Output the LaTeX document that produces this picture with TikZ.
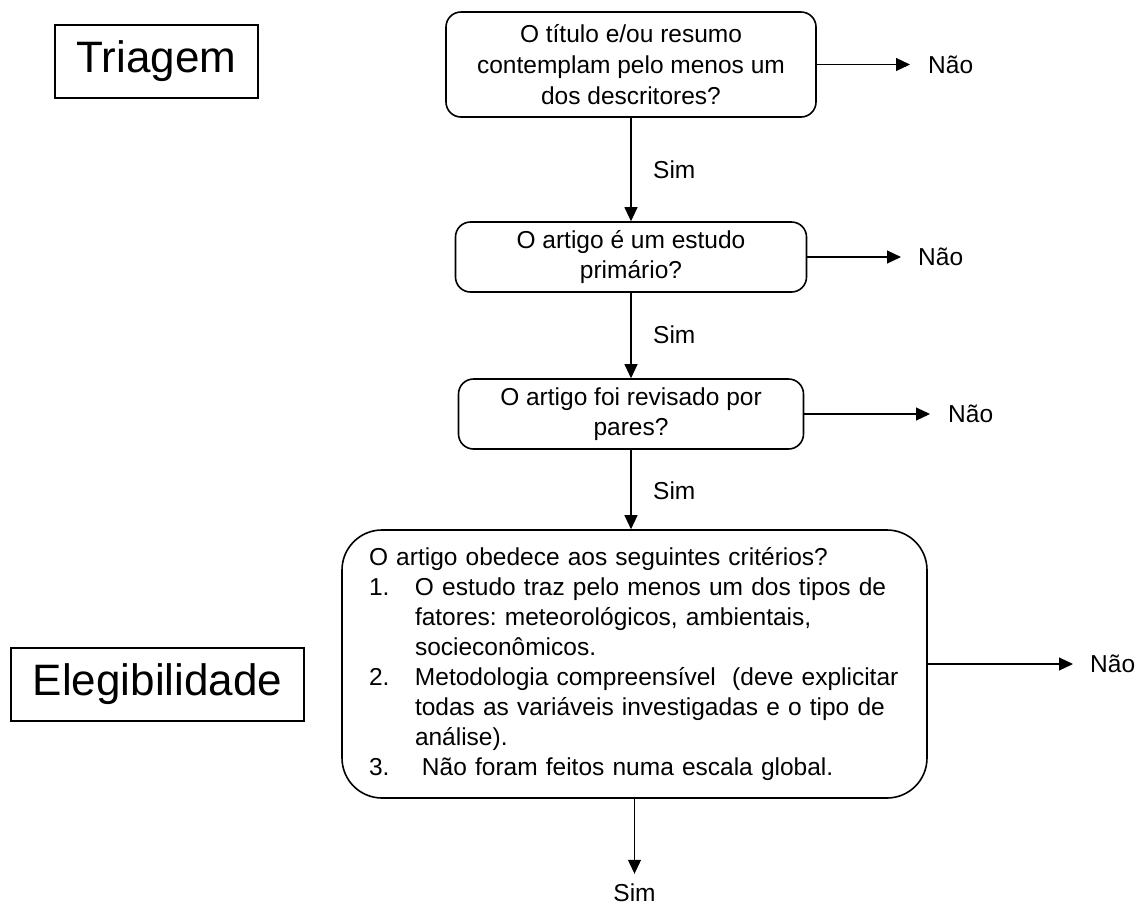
\documentclass[tikz,border=0pt]{standalone}
\usepackage{fontspec}
\setmainfont{Liberation Sans}
\usetikzlibrary{arrows.meta}
\begin{document}
\begin{tikzpicture}[x=1pt,y=-1pt,
  q/.style={draw, line width=1.6pt, rounded corners=15pt, align=center, inner sep=0pt, font=\fontsize{24.5}{30}\selectfont\frenchspacing},
  lab/.style={draw, line width=1.6pt, inner sep=0pt, font=\fontsize{44}{50}\selectfont},
  arr/.style={line width=1.1pt, -{Triangle[length=14pt,width=13pt]}},
  txt/.style={inner sep=0pt, font=\fontsize{24.5}{30}\selectfont}]
\useasboundingbox (0,0) rectangle (1136,906);
\fill[white] (0,0) rectangle (1136,906);
% stage labels
\node[lab, minimum width=203pt, minimum height=73pt] (tri) at (156.5,61.5) {Triagem};
\node[lab, minimum width=293pt, minimum height=73pt] (ele) at (157.5,684.5) {Elegibilidade};
% questions
\node[q, minimum width=370pt, minimum height=105pt, font=\fontsize{24.5}{31}\selectfont] (q1) at (631,64.5) {O título e/ou resumo\\contemplam pelo menos um\\dos descritores?};
\node[q, minimum width=351pt, minimum height=70pt] (q2) at (631,257) {O artigo é um estudo\\primário?};
\node[q, minimum width=345pt, minimum height=70pt] (q3) at (631,414) {O artigo foi revisado por\\pares?};
\node[q, rounded corners=40pt, minimum width=585pt, minimum height=268pt, text width=531pt, align=left, inner xsep=27pt, inner ysep=0pt] (crit) at (634.5,664) {O artigo obedece aos seguintes critérios?\\
\makebox[46pt][l]{1.}O estudo traz pelo menos um dos tipos de\\
\hspace*{46pt}fatores: meteorológicos, ambientais,\\
\hspace*{46pt}socieconômicos.\\
\makebox[46pt][l]{2.}Metodologia compreensível\ \ (deve explicitar\\
\hspace*{46pt}todas as variáveis investigadas e o tipo de\\
\hspace*{46pt}análise).\\
\makebox[53pt][l]{3.}Não foram feitos numa escala global.};
% No labels
\node[txt, anchor=west] (n1) at (928,64.5) {Não};
\node[txt, anchor=west] (n2) at (918,257) {Não};
\node[txt, anchor=west] (n3) at (948,414) {Não};
\node[txt, anchor=west] (n4) at (1090,664) {Não};
% Yes labels
\node[txt, anchor=west] (s1) at (653,170) {Sim};
\node[txt, anchor=west] (s2) at (653,335) {Sim};
\node[txt, anchor=west] (s3) at (653,491) {Sim};
\node[txt] (s4) at (634.5,893) {Sim};
% connectors
\draw[arr] (q1.east) -- ([xshift=-18pt]n1.west);
\draw[arr] (q2.east) -- ([xshift=-17pt]n2.west);
\draw[arr] (q3.east) -- ([xshift=-18pt]n3.west);
\draw[arr] (crit.east) -- ([xshift=-17pt]n4.west);
\draw[arr] (q1.south) -- (q2.north);
\draw[arr] (q2.south) -- (q3.north);
\draw[arr] (q3.south) -- (q3.south |- crit.north);
\draw[arr] (crit.south) -- ([yshift=10pt]s4.north);
\end{tikzpicture}
\end{document}
